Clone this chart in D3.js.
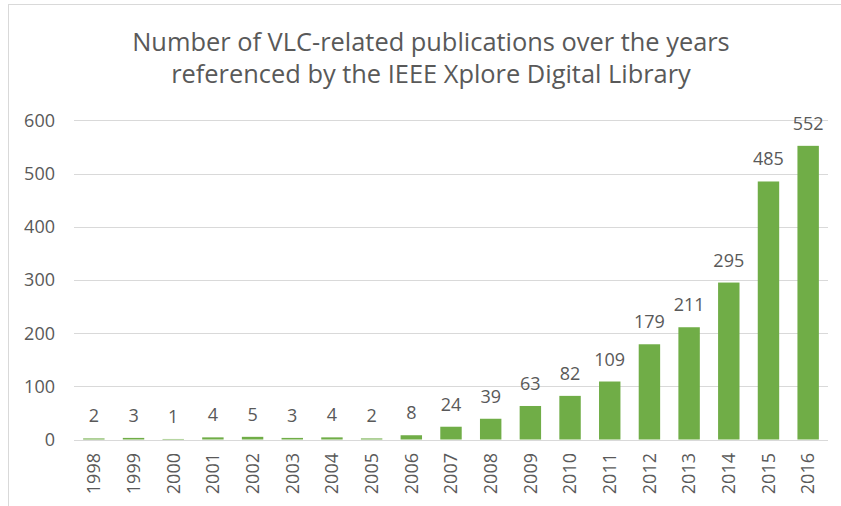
<!DOCTYPE html>
<html>
<head>
<meta charset="utf-8">
<script src="https://cdn.jsdelivr.net/npm/d3@7"></script>
<style>
  body { margin: 0; background: #fff; }
  text { font-family: "Open Sans", sans-serif; fill: #595959; }
</style>
</head>
<body>
<script>
var width = 841;
var height = 506;
var barColor = "#70ad47";
var gridColor = "#d9d9d9";

var years = ["1998", "1999", "2000", "2001", "2002", "2003", "2004", "2005", "2006", "2007",
             "2008", "2009", "2010", "2011", "2012", "2013", "2014", "2015", "2016"];
var counts = [2, 3, 1, 4, 5, 3, 4, 2, 8, 24, 39, 63, 82, 109, 179, 211, 295, 485, 552];
var yTicks = [0, 100, 200, 300, 400, 500, 600];
var titleLines = ["Number of VLC-related publications over the years",
                  "referenced by the IEEE Xplore Digital Library"];

var plotLeft = 74, plotRight = 828, plotTop = 120.3, plotBottom = 439.5;

var svg = d3.select("body").append("svg")
    .attr("width", width)
    .attr("height", height);

// chart frame (only top and left edges show)
svg.append("rect")
    .attr("x", 8.5).attr("y", 4.5)
    .attr("width", width + 20).attr("height", height + 20)
    .attr("fill", "#fff")
    .attr("stroke", gridColor)
    .attr("stroke-width", 1);

// title
svg.selectAll(".title")
    .data(titleLines)
    .enter().append("text")
    .attr("class", "title")
    .attr("x", 431)
    .attr("y", function(d, i) { return 51 + i * 32; })
    .attr("text-anchor", "middle")
    .style("font-size", "25.4px")
    .text(function(d) { return d; });

var x = d3.scaleBand()
    .domain(years)
    .range([plotLeft, plotRight])
    .paddingInner(0.46)
    .paddingOuter(0.23);

var y = d3.scaleLinear()
    .domain([0, 600])
    .range([plotBottom, plotTop]);

// gridlines
svg.selectAll(".grid")
    .data(yTicks)
    .enter().append("line")
    .attr("x1", plotLeft)
    .attr("x2", plotRight)
    .attr("y1", function(d) { return Math.round(y(d)) + 0.5; })
    .attr("y2", function(d) { return Math.round(y(d)) + 0.5; })
    .attr("stroke", gridColor)
    .attr("stroke-width", 1);

// y tick labels
svg.selectAll(".ytick")
    .data(yTicks)
    .enter().append("text")
    .attr("x", 55)
    .attr("y", function(d) { return y(d) + 6.5; })
    .attr("text-anchor", "end")
    .style("font-size", "18px")
    .text(function(d) { return d; });

// bars
svg.selectAll(".bar")
    .data(counts)
    .enter().append("rect")
    .attr("x", function(d, i) { return x(years[i]); })
    .attr("y", function(d) { return y(d); })
    .attr("width", x.bandwidth())
    .attr("height", function(d) { return y(0) - y(d); })
    .attr("fill", barColor);

// value labels
svg.selectAll(".val")
    .data(counts)
    .enter().append("text")
    .attr("x", function(d, i) { return x(years[i]) + x.bandwidth() / 2; })
    .attr("y", function(d) { return y(d) - 16; })
    .attr("text-anchor", "middle")
    .style("font-size", "18px")
    .text(function(d) { return d; });

// year labels
svg.selectAll(".year")
    .data(years)
    .enter().append("text")
    .attr("transform", function(d) {
        return "translate(" + (x(d) + x.bandwidth() / 2) + ",453) rotate(-90)";
    })
    .attr("dy", "0.35em")
    .attr("text-anchor", "end")
    .style("font-size", "18px")
    .text(function(d) { return d; });
</script>
</body>
</html>
